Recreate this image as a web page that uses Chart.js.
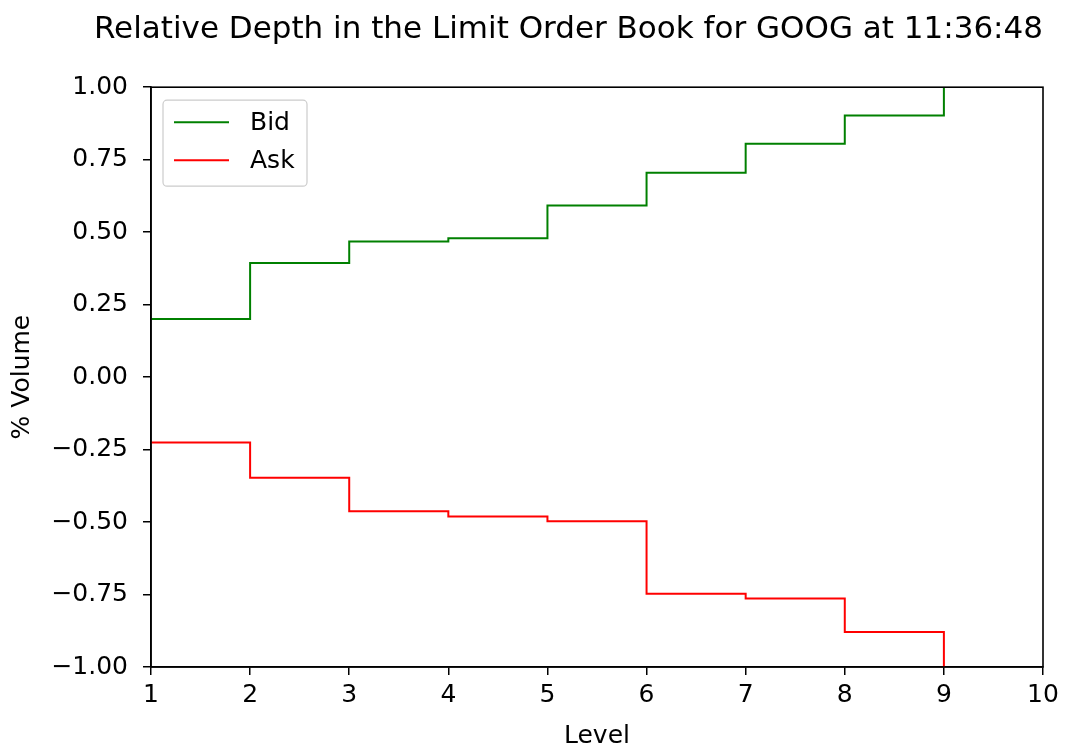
<!DOCTYPE html>
<html>
<head>
<meta charset="utf-8">
<script src="https://cdn.jsdelivr.net/npm/chart.js@4"></script>
<style>
  html, body { margin: 0; padding: 0; background: #fff; }
  #wrap { width: 1076px; height: 748px; }
</style>
</head>
<body>
<div id="wrap"><canvas id="depthChart"></canvas></div>
<script>
// levels of the book and cumulative relative depth
const levels = [1, 2, 3, 4, 5, 6, 7, 8, 9]
const bidDepth = [0.2, 0.394, 0.468, 0.479, 0.592, 0.705, 0.805, 0.902, 1.0]
const askDepth = [-0.226, -0.347, -0.463, -0.481, -0.497, -0.747, -0.764, -0.879, -1.0]
const seriesLabels = ["Bid", "Ask"]
const yTicks = [-1, -0.75, -0.5, -0.25, 0, 0.25, 0.5, 0.75, 1]

const FONT = "'DejaVu Sans', sans-serif"

function toPoints(ys) {
  return levels.map((x, i) => ({ x: x, y: ys[i] }))
}

// box around the plot like matplotlib spines
const frame = {
  id: "frame",
  afterDatasetsDraw(chart) {
    const { ctx, chartArea: a } = chart
    ctx.save()
    ctx.strokeStyle = "#000"
    ctx.lineWidth = 1.6
    ctx.strokeRect(a.left, a.top, a.right - a.left, a.bottom - a.top)
    ctx.restore()
  },
}

// legend drawn inside the top-left corner
const innerLegend = {
  id: "innerLegend",
  afterDraw(chart) {
    const { ctx, chartArea: a } = chart
    const x = a.left + 12
    const y = a.top + 13
    const w = 144
    const h = 86
    ctx.save()
    ctx.fillStyle = "rgba(255,255,255,0.8)"
    ctx.strokeStyle = "#cccccc"
    ctx.lineWidth = 1.2
    ctx.beginPath()
    ctx.roundRect(x, y, w, h, 4)
    ctx.fill()
    ctx.stroke()
    ctx.font = "25px " + FONT
    ctx.textBaseline = "middle"
    chart.data.datasets.forEach((ds, i) => {
      const ly = y + 22 + i * 38
      ctx.strokeStyle = ds.borderColor
      ctx.lineWidth = 2
      ctx.beginPath()
      ctx.moveTo(x + 11, ly)
      ctx.lineTo(x + 66, ly)
      ctx.stroke()
      ctx.fillStyle = "#000"
      ctx.fillText(ds.label, x + 87, ly + 1)
    })
    ctx.restore()
  },
}

const data = {
  datasets: [
    {
      label: seriesLabels[0],
      data: toPoints(bidDepth),
      borderColor: "#008000",
      borderWidth: 2,
      stepped: "before",
      showLine: true,
      pointRadius: 0,
      fill: false,
    },
    {
      label: seriesLabels[1],
      data: toPoints(askDepth),
      borderColor: "#ff0000",
      borderWidth: 2,
      stepped: "before",
      showLine: true,
      pointRadius: 0,
      fill: false,
    },
  ],
}

const config = {
  type: "scatter",
  data: data,
  options: {
    responsive: true,
    maintainAspectRatio: false,
    animation: false,
    layout: { padding: { left: 7, right: 33, top: 0, bottom: 0 } },
    plugins: {
      legend: { display: false },
      tooltip: { enabled: false },
      title: {
        display: true,
        align: "end",
        text: "Relative Depth in the Limit Order Book for GOOG at 11:36:48",
        color: "#000",
        font: { family: FONT, size: 31, weight: "normal" },
        padding: { top: 11, bottom: 39 },
      },
    },
    scales: {
      x: {
        type: "linear",
        min: 1,
        max: 10,
        afterFit(axis) {
          axis.height = 81
        },
        ticks: {
          stepSize: 1,
          color: "#000",
          font: { family: FONT, size: 25 },
          padding: 5,
        },
        grid: { drawOnChartArea: false, color: "#000", tickLength: 8, lineWidth: 1.5 },
        border: { display: true, color: "#000", width: 1.6 },
        title: {
          display: true,
          text: "Level",
          color: "#000",
          font: { family: FONT, size: 25, lineHeight: 0.9 },
          padding: { top: 0, bottom: 0 },
        },
      },
      y: {
        min: -1,
        max: 1,
        afterFit(axis) {
          axis.width = 144
        },
        afterBuildTicks(axis) {
          axis.ticks = yTicks.map(v => ({ value: v }))
        },
        ticks: {
          color: "#000",
          font: { family: FONT, size: 25 },
          padding: 15,
          callback: v => (v < 0 ? "\u2212" : "") + Math.abs(v).toFixed(2),
        },
        grid: { drawOnChartArea: false, color: "#000", tickLength: 8, lineWidth: 1.5 },
        border: { display: true, color: "#000", width: 1.6 },
        title: {
          display: true,
          text: "% Volume",
          color: "#000",
          font: { family: FONT, size: 25 },
          padding: { top: 0, bottom: 0 },
        },
      },
    },
  },
  plugins: [frame, innerLegend],
}

new Chart(document.getElementById("depthChart"), config)
</script>
</body>
</html>
